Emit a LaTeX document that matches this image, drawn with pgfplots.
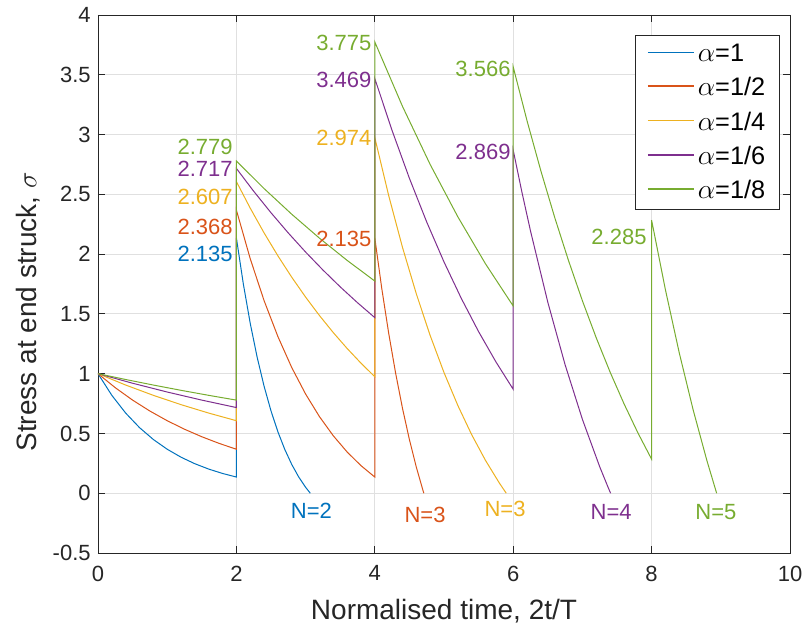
\documentclass[border=0pt]{standalone}
\usepackage{fontspec}
\setmainfont{Liberation Sans}
\usepackage{pgfplots}
\pgfplotsset{compat=1.18}
\usetikzlibrary{calc}
\definecolor{c1}{rgb}{0,0.447,0.741}
\definecolor{c2}{rgb}{0.85,0.325,0.098}
\definecolor{c3}{rgb}{0.929,0.694,0.125}
\definecolor{c4}{rgb}{0.494,0.184,0.556}
\definecolor{c5}{rgb}{0.466,0.674,0.188}
\definecolor{axc}{rgb}{0.15,0.15,0.15}
\definecolor{gridc}{rgb}{0.88,0.88,0.88}
\newcommand\tfont{\fontsize{16.5bp}{19bp}\selectfont}
\newcommand\gfont{\fontsize{19bp}{22bp}\selectfont}
\newcommand\lfont{\fontsize{21bp}{25bp}\selectfont}
\begin{document}
\begin{tikzpicture}
\begin{axis}[
  name=ax,
  scale only axis,
  width=519bp, height=403.5bp,
  xmin=0, xmax=10, ymin=-0.5, ymax=4,
  xtick={0,2,4,6,8,10},
  ytick={-0.5,0,0.5,1,1.5,2,2.5,3,3.5,4},
  grid=major,
  major grid style={gridc, line width=0.6bp},
  axis line style={axc, line width=0.6bp},
  tick style={axc, line width=0.6bp},
  tick align=inside,
  major tick length=5bp,
  /pgf/number format/assume math mode=true,
  ticklabel style={font=\tfont, text=axc},
  xticklabel style={yshift=-6bp},
  yticklabel style={xshift=-2bp},
  xlabel={Normalised time, 2t/T},
  ylabel={Stress at end struck, $\sigma$},
  every axis x label/.style={at={(axis description cs:0.5,0)}, anchor=center, yshift=-43.5bp, font=\lfont, text=axc},
  every axis y label/.style={at={(axis description cs:-0.101,0.448)}, anchor=center, rotate=90, font=\lfont, text=axc},
  legend style={at={(axis description cs:0.985,0.963)}, anchor=north east, draw=axc, line width=0.6bp, fill=white, font=\gfont, text=black, row sep=6.5bp, inner xsep=8.5bp, inner ysep=4.5bp, cells={anchor=west}},
  legend image code/.code={\draw[#1, line width=1.2bp] (0bp,1bp) -- (35bp,1bp);},
  every axis plot/.append style={line width=0.75bp},
]
\addplot[draw=c1] coordinates {(0,1) (0.2,0.8187) (0.4,0.6703) (0.6,0.5488) (0.8,0.4493) (1.0,0.3679) (1.2,0.3012) (1.4,0.2466) (1.6,0.2019) (1.8,0.1653) (2,0.1353) (2,2.1353) (2.1,1.7511) (2.2,1.4207) (2.3,1.1374) (2.4,0.8951) (2.5,0.6886) (2.6,0.5133) (2.7,0.3652) (2.8,0.2405) (2.9,0.1363) (3.0,0.0498) (3.0677,0)};
\addlegendentry{$\alpha$=1}
\addplot[draw=c2] coordinates {(0,1) (0.25,0.8825) (0.5,0.7788) (0.75,0.6873) (1,0.6065) (1.25,0.5353) (1.5,0.4724) (1.75,0.4169) (2,0.3679) (2,2.3679) (2.2,1.9615) (2.4,1.6111) (2.6,1.3097) (2.8,1.0510) (3.0,0.8296) (3.2,0.6409) (3.4,0.4807) (3.6,0.3450) (3.8,0.2309) (4,0.1353) (4,2.1353) (4.1,1.7155) (4.2,1.3407) (4.3,1.0070) (4.4,0.7108) (4.5,0.4489) (4.6,0.2182) (4.7,0.0160) (4.7085,0)};
\addlegendentry{$\alpha$=1/2}
\addplot[draw=c3] coordinates {(0,1) (0.4,0.9048) (0.8,0.8187) (1.2,0.7408) (1.6,0.6703) (2,0.6065) (2,2.6065) (2.2,2.3843) (2.4,2.1775) (2.6,1.9852) (2.8,1.8065) (3.0,1.6405) (3.2,1.4865) (3.4,1.3435) (3.6,1.2109) (3.8,1.0881) (4,0.9744) (4,2.9744) (4.2,2.4910) (4.4,2.0568) (4.6,1.6676) (4.8,1.3196) (5.0,1.0094) (5.2,0.7338) (5.4,0.4896) (5.6,0.2743) (5.8,0.0851) (5.8996,0)};
\addlegendentry{$\alpha$=1/4}
\addplot[draw=c4] coordinates {(0,1) (0.5,0.9200) (1,0.8465) (1.5,0.7788) (2,0.7165) (2,2.7165) (2.25,2.5257) (2.5,2.3460) (2.75,2.1767) (3,2.0173) (3.25,1.8673) (3.5,1.7262) (3.75,1.5935) (4,1.4688) (4,3.4688) (4.25,3.0335) (4.5,2.6343) (4.75,2.2688) (5,1.9346) (5.25,1.6296) (5.5,1.3516) (5.75,1.0988) (6,0.8694) (6,2.8694) (6.125,2.5210) (6.25,2.1936) (6.5,1.5977) (6.75,1.0747) (7,0.6180) (7.25,0.2215) (7.375,0.0441) (7.4076,0)};
\addlegendentry{$\alpha$=1/6}
\addplot[draw=c5] coordinates {(0,1) (0.4,0.9512) (0.8,0.9048) (1.2,0.8607) (1.6,0.8187) (2,0.7788) (2,2.7788) (2.4,2.5482) (2.8,2.3334) (3.2,2.1335) (3.6,1.9476) (4,1.7747) (4,3.7747) (4.4,3.2359) (4.8,2.7498) (5.2,2.3119) (5.6,1.9185) (6,1.5657) (6,3.5656) (6.2,3.1151) (6.4,2.6958) (6.6,2.3062) (6.8,1.9447) (7,1.6097) (7.2,1.2998) (7.4,1.0136) (7.6,0.7499) (7.8,0.5072) (8,0.2846) (8,2.2846) (8.2,1.7009) (8.4,1.1732) (8.6,0.6979) (8.8,0.2712) (8.9399,0)};
\addlegendentry{$\alpha$=1/8}
\begin{scope}[every node/.style={font=\tfont, inner sep=0pt}]
\node[anchor=east, text=c5] at (axis cs:1.95,2.90) {2.779};
\node[anchor=east, text=c4] at (axis cs:1.95,2.71) {2.717};
\node[anchor=east, text=c3] at (axis cs:1.95,2.475) {2.607};
\node[anchor=east, text=c2] at (axis cs:1.95,2.224) {2.368};
\node[anchor=east, text=c1] at (axis cs:1.95,2.00) {2.135};
\node[anchor=east, text=c5] at (axis cs:3.955,3.763) {3.775};
\node[anchor=east, text=c4] at (axis cs:3.955,3.456) {3.469};
\node[anchor=east, text=c3] at (axis cs:3.955,2.969) {2.974};
\node[anchor=east, text=c2] at (axis cs:3.955,2.130) {2.135};
\node[anchor=east, text=c5] at (axis cs:5.965,3.546) {3.566};
\node[anchor=east, text=c4] at (axis cs:5.965,2.856) {2.869};
\node[anchor=east, text=c5] at (axis cs:7.93,2.140) {2.285};
\node[text=c1] at (axis cs:3.085,-0.146) {N=2};
\node[text=c2] at (axis cs:4.726,-0.182) {N=3};
\node[text=c3] at (axis cs:5.882,-0.135) {N=3};
\node[text=c4] at (axis cs:7.415,-0.160) {N=4};
\node[text=c5] at (axis cs:8.93,-0.160) {N=5};
\end{scope}
\end{axis}
\pgfresetboundingbox
\useasboundingbox ($(ax.south west)+(-73.5bp,-61.5bp)$) rectangle ($(ax.north east)+(12bp,11.25bp)$);
\end{tikzpicture}
\end{document}
